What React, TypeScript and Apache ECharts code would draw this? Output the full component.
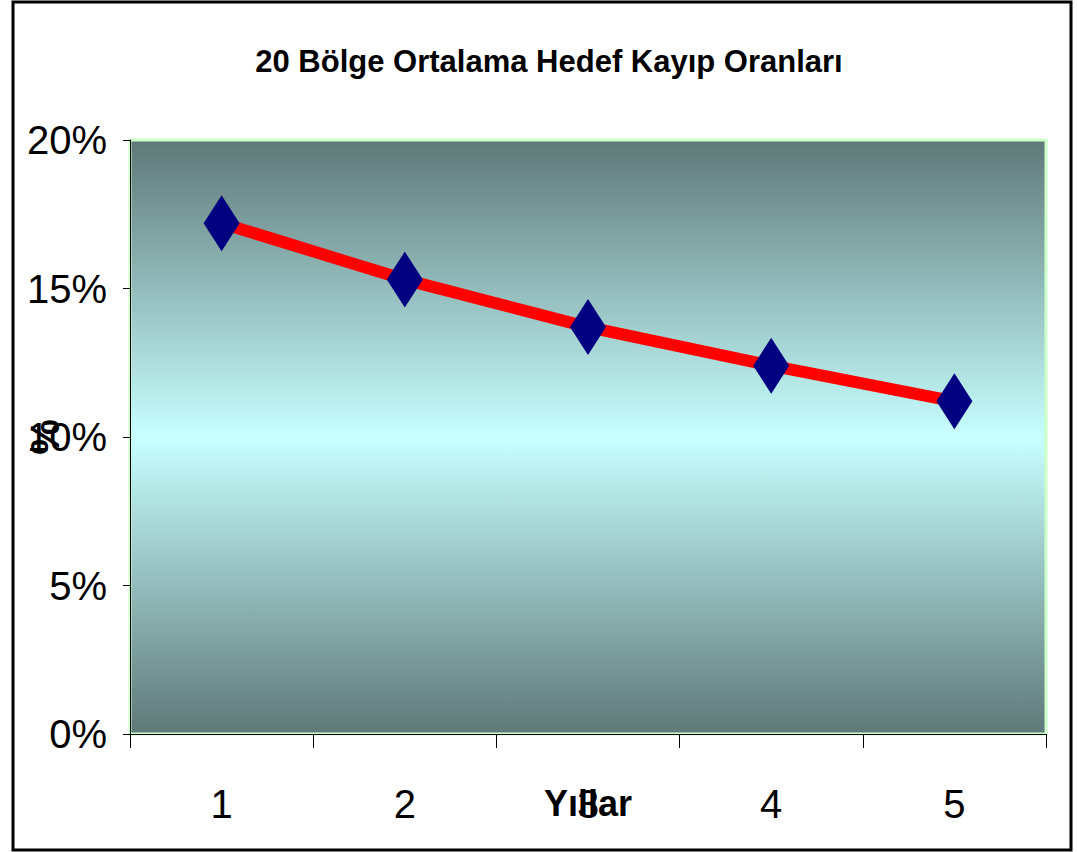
import React, { useEffect, useRef } from "react";
import * as echarts from "echarts";

const titleText = "20 Bölge Ortalama Hedef Kayıp Oranları";
const categories = ["1", "2", "3", "4", "5"];
const lossRates = [0.172, 0.153, 0.137, 0.124, 0.112];
const yTicks = { min: 0, max: 0.2, interval: 0.05 };
const xAxisName = "Yıllar";
const yAxisName = "%";

const FONT = "'Liberation Sans Narrow', 'Arial Narrow', 'Liberation Sans', Arial, sans-serif";

export default function App() {
  const ref = useRef<HTMLDivElement>(null);
  useEffect(() => {
    if (!ref.current) return;
    const chart = echarts.init(ref.current, undefined, { renderer: "svg" });
    chart.setOption({
      animation: false,
      backgroundColor: "#ffffff",
      title: {
        text: titleText,
        left: 544,
        textAlign: "center",
        top: 41,
        textStyle: { fontFamily: FONT, fontWeight: "bold", fontSize: 31, color: "#000" },
      },
      grid: {
        left: 130,
        right: 31,
        top: 140,
        bottom: 118,
        containLabel: false,
        outerBoundsMode: "none",
        show: true,
        borderColor: "#ccffcc",
        borderWidth: 3,
        backgroundColor: new echarts.graphic.LinearGradient(0, 0, 0, 1, [
          { offset: 0, color: "#5f7878" },
          { offset: 0.5, color: "#c8ffff" },
          { offset: 1, color: "#5f7878" },
        ]),
      },
      xAxis: {
        type: "category",
        data: categories,
        boundaryGap: true,
        name: xAxisName,
        nameLocation: "middle",
        nameGap: 69,
        nameMoveOverlap: false,
        nameTextStyle: {
          fontFamily: FONT,
          fontWeight: "bold",
          fontSize: 36,
          color: "#000",
          verticalAlign: "middle",
        },
        axisLine: { lineStyle: { color: "#000", width: 1 } },
        axisTick: { show: true, length: 14, lineStyle: { color: "#000" } },
        axisLabel: { fontFamily: FONT, fontSize: 40, color: "#000", margin: 50 },
        splitLine: { show: false },
      },
      yAxis: {
        type: "value",
        min: yTicks.min,
        max: yTicks.max,
        interval: yTicks.interval,
        name: yAxisName,
        nameLocation: "middle",
        nameGap: 85,
        nameRotate: 90,
        nameMoveOverlap: false,
        nameTextStyle: {
          fontFamily: FONT,
          fontWeight: "bold",
          fontSize: 40,
          color: "#000",
          verticalAlign: "middle",
        },
        axisLine: { show: true, lineStyle: { color: "#000", width: 1 } },
        axisTick: { show: true, length: 7, lineStyle: { color: "#000" } },
        axisLabel: {
          fontFamily: FONT,
          fontSize: 40,
          color: "#000",
          margin: 23,
          formatter: (v: number) => `${Math.round(v * 100)}%`,
        },
        splitLine: { show: false },
      },
      series: [
        {
          type: "line",
          data: lossRates,
          lineStyle: { color: "#ff0000", width: 12 },
          itemStyle: { color: "#000080" },
          symbol: "diamond",
          symbolSize: [36, 56],
          z: 3,
        },
      ],
      graphic: [
        {
          type: "rect",
          shape: { x: 13, y: 2, width: 1058, height: 848 },
          style: { fill: "none", stroke: "#000", lineWidth: 3 },
          silent: true,
        },
      ],
    });
    return () => chart.dispose();
  }, []);
  return (
    <div
      ref={ref}
      style={{ position: "fixed", left: 0, top: 0, width: 1077, height: 852 }}
    />
  );
}
